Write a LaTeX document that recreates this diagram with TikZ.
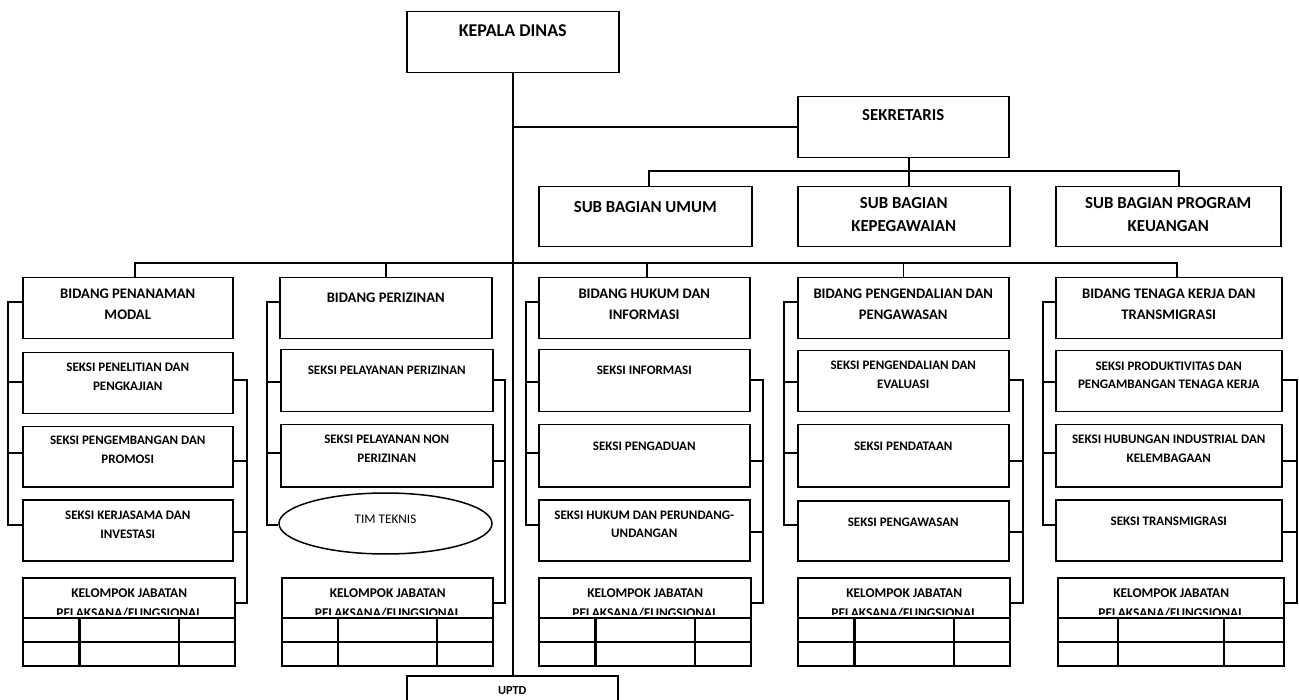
\documentclass[tikz,border=0pt]{standalone}
\usepackage{fontspec}
\setmainfont{Carlito}
\usetikzlibrary{shapes.geometric,calc}
\begin{document}
\begin{tikzpicture}[x=1pt,y=-1pt,
  box/.style={draw, line width=1.5pt, inner sep=0pt, anchor=north west},
  kjbox/.style={draw, line width=2.4pt, inner sep=0pt, anchor=north west},
  conn/.style={line width=1.5pt},
  kjline/.style={line width=2.4pt},
  tkd/.style={anchor=base, inner sep=0pt, font=\fontsize{18}{20}\selectfont\bfseries},
  tsb/.style={anchor=base, inner sep=0pt, font=\fontsize{16.8}{19}\selectfont\bfseries},
  tbid/.style={anchor=base, inner sep=0pt, font=\fontsize{14.6}{17}\selectfont\bfseries},
  tsek/.style={anchor=base, inner sep=0pt, font=\fontsize{13}{15}\selectfont\bfseries},
  tkj/.style={anchor=base, inner sep=0pt, font=\fontsize{13.4}{15}\selectfont\bfseries},
  ttim/.style={anchor=base, inner sep=0pt, font=\fontsize{13.2}{15}\selectfont},
  tup/.style={anchor=base, inner sep=0pt, font=\fontsize{12.3}{14}\selectfont\bfseries}
]
\useasboundingbox (0,0) rectangle (1299,700);
\clip (0,0) rectangle (1299,700);
\fill[white] (0,0) rectangle (1299,700);

% ---------- top level ----------
\node[box, minimum width=212pt, minimum height=61pt] (kd) at (406,11) {};
\node[tkd] (kdt) at ([yshift=-26pt]kd.north) {KEPALA DINAS};

\node[box, minimum width=211pt, minimum height=61pt] (sek) at (797,96) {};
\node[tsb] (sekt) at ([yshift=-25pt]sek.north) {SEKRETARIS};

\node[box, minimum width=213pt, minimum height=60pt] (sbu) at (538,186) {};
\node[box, minimum width=212pt, minimum height=60pt] (sbk) at (797,186) {};
\node[box, minimum width=225pt, minimum height=60pt] (sbp) at (1055,186) {};
\node[tsb] (sbut) at ([yshift=-27pt]sbu.north) {SUB BAGIAN UMUM};
\node[tsb] (sbkt1) at ([yshift=-23pt]sbk.north) {SUB BAGIAN};
\node[tsb] (sbkt2) at ([yshift=-46pt]sbk.north) {KEPEGAWAIAN};
\node[tsb] (sbpt1) at ([yshift=-23pt]sbp.north) {SUB BAGIAN PROGRAM};
\node[tsb] (sbpt2) at ([yshift=-46pt]sbp.north) {KEUANGAN};

\node[box, minimum width=211pt, minimum height=40pt] (uptd) at (406,675) {};
\node[tup] (uptdt) at ([yshift=-19pt]uptd.north) {UPTD};

% ---------- bidang row ----------
\node[box, minimum width=210pt, minimum height=61pt] (bid1) at (22,277) {};
\node[box, minimum width=212pt, minimum height=61pt] (bid2) at (279,277) {};
\node[box, minimum width=211pt, minimum height=61pt] (bid3) at (538,277) {};
\node[box, minimum width=211pt, minimum height=61pt] (bid4) at (797,277) {};
\node[box, minimum width=226pt, minimum height=61pt] (bid5) at (1055,277) {};

% ---------- seksi boxes ----------
\node[box, minimum width=210pt, minimum height=61pt] (s11) at (22,352) {};
\node[box, minimum width=210pt, minimum height=60pt] (s12) at (22,426) {};
\node[box, minimum width=210pt, minimum height=61pt] (s13) at (22,499) {};

\node[box, minimum width=212pt, minimum height=62pt] (s21) at (280,349) {};
\node[box, minimum width=212pt, minimum height=62pt] (s22) at (280,424) {};
\node[draw, ellipse, line width=1.5pt, inner sep=0pt, minimum width=213pt, minimum height=61pt] (s23) at (385.5,523.5) {};

\node[box, minimum width=211pt, minimum height=62pt] (s31) at (538,349) {};
\node[box, minimum width=211pt, minimum height=62pt] (s32) at (538,424) {};
\node[box, minimum width=211pt, minimum height=61pt] (s33) at (538,499) {};

\node[box, minimum width=211pt, minimum height=61pt] (s41) at (797,350) {};
\node[box, minimum width=211pt, minimum height=62pt] (s42) at (797,424) {};
\node[box, minimum width=211pt, minimum height=60pt] (s43) at (797,500) {};

\node[box, minimum width=226pt, minimum height=61pt] (s51) at (1055,350) {};
\node[box, minimum width=226pt, minimum height=62pt] (s52) at (1055,424) {};
\node[box, minimum width=226pt, minimum height=61pt] (s53) at (1055,499) {};

% ---------- kelompok jabatan ----------
\node[kjbox, minimum width=212pt, minimum height=88pt] (kj1) at (22,577) {};
\node[kjbox, minimum width=211pt, minimum height=88pt] (kj2) at (281,577) {};
\node[kjbox, minimum width=212pt, minimum height=88pt] (kj3) at (538,577) {};
\node[kjbox, minimum width=212pt, minimum height=88pt] (kj4) at (797,577) {};
\node[kjbox, minimum width=226pt, minimum height=88pt] (kj5) at (1057,577) {};

% ---------- connectors: top ----------
\coordinate (sbx) at (909,0);
\coordinate (sbL) at (649,171);
\coordinate (sbR) at (1179,171);
\coordinate (bbL) at (135,263);
\coordinate (bbR) at (1177,263);
\coordinate (d3) at (647,263);

\draw[conn] (kd.south) -- (kd.south |- uptd.north);
\draw[conn] (kd.south |- sek.west) -- (sek.west);
\draw[conn] (sek.south -| sbx) -- (sbk.north -| sbx);
\draw[conn] (sbu.north -| sbL) -- (sbL) -- (sbR) -- (sbp.north -| sbR);
\draw[conn] (bid1.north -| bbL) -- (bbL) -- (bbR) -- (bid5.north -| bbR);
\draw[conn] (bid2.north) -- (bid2.north |- bbL);
\draw[conn] (bid3.north -| d3) -- (d3);
\draw[conn] (bid4.north) -- (bid4.north |- bbL);

% ---------- brackets ----------
\foreach \n/\lx/\rx in {1/8/247, 2/267/505, 3/526/763, 4/784/1023, 5/1043/1297}{
  \draw[conn] (bid\n.west |- \lx,302) -- (\lx,302) -- (\lx,525) -- (s\n3.west |- \lx,525);
  \draw[conn] (s\n1.west |- \lx,382) -- (\lx,382);
  \draw[conn] (s\n2.west |- \lx,453) -- (\lx,453);
  \draw[conn] (s\n1.east |- \rx,380) -- (\rx,380) -- (\rx,603) -- (kj\n.east |- \rx,603);
  \draw[conn] (s\n2.east |- \rx,461) -- (\rx,461);
  % table lines
  \draw[kjline] (kj\n.west |- 0,618) -- (kj\n.east |- 0,618);
  \draw[kjline] (kj\n.west |- 0,642) -- (kj\n.east |- 0,642);
  \coordinate (kjA\n) at ($(kj\n.south west)!0.268!(kj\n.south east)$);
  \coordinate (kjB\n) at ($(kj\n.south west)!0.732!(kj\n.south east)$);
  \draw[kjline] (kjA\n |- 0,618) -- (kjA\n);
  \draw[kjline] (kjB\n |- 0,618) -- (kjB\n);
  \node[tkj] (kjt\n) at ([yshift=-20pt]kj\n.north) {KELOMPOK JABATAN};
  \begin{scope}
    \clip (kj\n.north west) rectangle (kj\n.east |- 0,614);
    \node[tkj] (kju\n) at ([yshift=-40pt]kj\n.north) {PELAKSANA/FUNGSIONAL};
  \end{scope}
}
\foreach \n/\rx in {1/247, 3/763, 4/1023, 5/1297}{
  \draw[conn] (s\n3.east |- \rx,532) -- (\rx,532);
}

% ---------- texts: bidang ----------
\node[tbid] (tb1a) at ([yshift=-22pt]bid1.north) {BIDANG PENANAMAN};
\node[tbid] (tb1b) at ([yshift=-43pt]bid1.north) {MODAL};
\node[tbid] (tb2a) at ([yshift=-26pt]bid2.north) {BIDANG PERIZINAN};
\node[tbid] (tb3a) at ([yshift=-22pt]bid3.north) {BIDANG HUKUM DAN};
\node[tbid] (tb3b) at ([yshift=-43pt]bid3.north) {INFORMASI};
\node[tbid] (tb4a) at ([yshift=-22pt]bid4.north) {BIDANG PENGENDALIAN DAN};
\node[tbid] (tb4b) at ([yshift=-43pt]bid4.north) {PENGAWASAN};
\node[tbid] (tb5a) at ([yshift=-22pt]bid5.north) {BIDANG TENAGA KERJA DAN};
\node[tbid] (tb5b) at ([yshift=-43pt]bid5.north) {TRANSMIGRASI};

% ---------- texts: seksi ----------
\node[tsek] (t11a) at ([yshift=-20pt]s11.north) {SEKSI PENELITIAN DAN};
\node[tsek] (t11b) at ([yshift=-39pt]s11.north) {PENGKAJIAN};
\node[tsek] (t12a) at ([yshift=-19pt]s12.north) {SEKSI PENGEMBANGAN DAN};
\node[tsek] (t12b) at ([yshift=-38pt]s12.north) {PROMOSI};
\node[tsek] (t13a) at ([yshift=-20pt]s13.north) {SEKSI KERJASAMA DAN};
\node[tsek] (t13b) at ([yshift=-39pt]s13.north) {INVESTASI};

\node[tsek] (t21a) at ([yshift=-26pt]s21.north) {SEKSI PELAYANAN PERIZINAN};
\node[tsek] (t22a) at ([yshift=-20pt]s22.north) {SEKSI PELAYANAN NON};
\node[tsek] (t22b) at ([yshift=-39pt]s22.north) {PERIZINAN};
\node[ttim] (t23a) at (s23.center) {TIM TEKNIS};

\node[tsek] (t31a) at ([yshift=-26pt]s31.north) {SEKSI INFORMASI};
\node[tsek] (t32a) at ([yshift=-26pt]s32.north) {SEKSI PENGADUAN};
\node[tsek] (t33a) at ([yshift=-20pt]s33.north) {SEKSI HUKUM DAN PERUNDANG-};
\node[tsek] (t33b) at ([yshift=-38pt]s33.north) {UNDANGAN};

\node[tsek] (t41a) at ([yshift=-20pt]s41.north) {SEKSI PENGENDALIAN DAN};
\node[tsek] (t41b) at ([yshift=-39pt]s41.north) {EVALUASI};
\node[tsek] (t42a) at ([yshift=-27pt]s42.north) {SEKSI PENDATAAN};
\node[tsek] (t43a) at ([yshift=-26pt]s43.north) {SEKSI PENGAWASAN};

\node[tsek] (t51a) at ([yshift=-21pt]s51.north) {SEKSI PRODUKTIVITAS DAN};
\node[tsek] (t51b) at ([yshift=-39pt]s51.north) {PENGAMBANGAN TENAGA KERJA};
\node[tsek] (t52a) at ([yshift=-20pt]s52.north) {SEKSI HUBUNGAN INDUSTRIAL DAN};
\node[tsek] (t52b) at ([yshift=-39pt]s52.north) {KELEMBAGAAN};
\node[tsek] (t53a) at ([yshift=-26pt]s53.north) {SEKSI TRANSMIGRASI};
\end{tikzpicture}
\end{document}
